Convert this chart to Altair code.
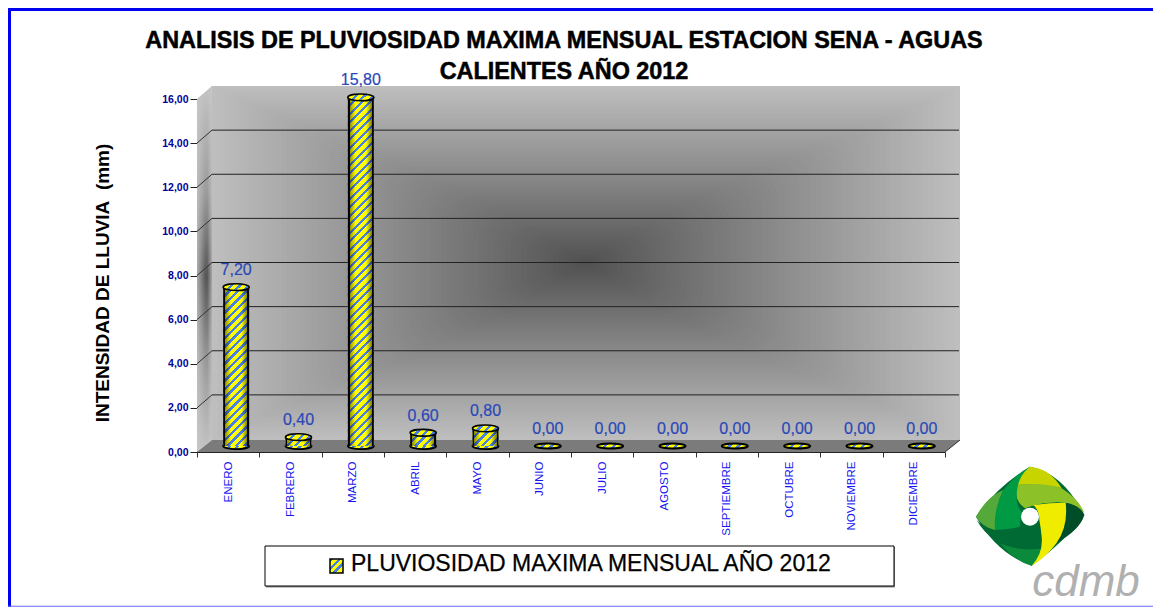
import altair as alt
import pandas as pd

MONTHS = ["ENERO", "FEBRERO", "MARZO", "ABRIL", "MAYO", "JUNIO", "JULIO", "AGOSTO",
          "SEPTIEMBRE", "OCTUBRE", "NOVIEMBRE", "DICIEMBRE"]
VALUES = [7.2, 0.4, 15.8, 0.6, 0.8, 0, 0, 0, 0, 0, 0, 0]
Y_TICKS = [0, 2, 4, 6, 8, 10, 12, 14, 16]
TITLE_LINES = ["ANALISIS DE PLUVIOSIDAD MAXIMA MENSUAL ESTACION SENA - AGUAS", "CALIENTES AÑO 2012"]
Y_TITLE = "INTENSIDAD DE LLUVIA\u00a0\u00a0(mm)"
LEGEND = "PLUVIOSIDAD MAXIMA MENSUAL AÑO 2012"

FONT = "Liberation Sans"
W, H = 748, 353
PX_X = alt.Scale(domain=[197, 945], nice=False, zero=False)
PX_Y = alt.Scale(domain=[452, 99], nice=False, zero=False)
BAND = alt.Scale(type="band", domain=MONTHS, range=[8, 756], paddingInner=0, paddingOuter=0)
BAR_Y = alt.Scale(domain=[0, 16], range=[347, -6], nice=False, zero=False)
GRID_Y = alt.Scale(domain=[0, 16], range=[H - 13, -13], nice=False, zero=False)
data = pd.DataFrame({"mes": MONTHS, "valor": VALUES,
                     "txt": [f"{v:.2f}".replace(".", ",") for v in VALUES]})
BAR_W = 26


def stop(o, c):
    return alt.GradientStop(offset=round(min(max(o, 0), 1), 5), color=c)


def hatch(w, h, period=8.5, blue=0.38):
    k = (w + h) / (w * w + h * h)
    n = (w + h) / period
    stops = []
    for i in range(int(n) + 1):
        a, b, c = i / n, (i + blue) / n, (i + 1) / n
        stops += [stop(a, "#4a7fe6"), stop(b, "#4a7fe6"), stop(b, "#ffff00"), stop(c, "#ffff00")]
    return alt.LinearGradient(gradient="linear", x1=0, y1=0, x2=w * k, y2=h * k, stops=stops)


SHADE = alt.LinearGradient(gradient="linear", x1=0, y1=0, x2=1, y2=0, stops=[
    stop(0, "rgba(0,0,0,1)"), stop(0.07, "rgba(0,0,0,1)"), stop(0.07, "rgba(0,0,0,0.45)"),
    stop(0.3, "rgba(0,0,0,0)"), stop(0.7, "rgba(0,0,0,0)"),
    stop(0.93, "rgba(0,0,0,0.5)"), stop(0.93, "rgba(0,0,0,1)"), stop(1, "rgba(0,0,0,1)")])

ELLIPSE = "M-1,0 A1,{r} 0 1 1 1,0 A1,{r} 0 1 1 -1,0 Z"


def px_rect(x, x2, y, y2, color, **kw):
    return alt.Chart(pd.DataFrame({"x": [x], "x2": [x2], "y": [y], "y2": [y2]})).mark_rect(color=color, **kw).encode(
        x=alt.X("x:Q", scale=PX_X, axis=None), x2="x2:Q",
        y=alt.Y("y:Q", scale=PX_Y, axis=None), y2="y2:Q")


def px_line(x, x2, y, y2, color, width=1):
    return alt.Chart(pd.DataFrame({"x": [x], "x2": [x2], "y": [y], "y2": [y2]})).mark_rule(color=color, strokeWidth=width).encode(
        x=alt.X("x:Q", scale=PX_X, axis=None), x2="x2:Q",
        y=alt.Y("y:Q", scale=PX_Y, axis=None), y2="y2:Q")


def px_text(x, y, s, **kw):
    return alt.Chart(pd.DataFrame({"x": [x], "y": [y], "t": [s]})).mark_text(font=FONT, **kw).encode(
        x=alt.X("x:Q", scale=PX_X, axis=None), y=alt.Y("y:Q", scale=PX_Y, axis=None), text="t:N")


def px_shape(x, y, path, fill, size=4 / 9):
    return alt.Chart(pd.DataFrame({"x": [x], "y": [y]})).mark_point(
        shape=path, size=size, filled=True, fill=fill, opacity=1, strokeWidth=0).encode(
        x=alt.X("x:Q", scale=PX_X, axis=None), y=alt.Y("y:Q", scale=PX_Y, axis=None))


layers = []

# page frame
layers += [px_rect(0, 1161, 8, 11, "#0000f0"), px_rect(8, 11, 8, 607, "#0000f0"),
           px_rect(8, 1161, 605.8, 606.8, "#6a6aff")]

# back wall: a rectangular path gradient, light at the edges and dark at the centre
WL, WR, WT, WB = 212, 960, 86, 440
CX, CY = 585, 263
STEPS = 70
for i in range(STEPS):
    t = 1 - i / STEPS
    g = int(0x50 + (0xbe - 0x50) * (t ** 0.95))
    hh = (WB - WT) / 2 * t
    radius = hh * (1 - t) ** 1.5 * 0.9
    layers.append(px_rect(CX + (WL - CX) * t, CX + (WR - CX) * t, CY + (WT - CY) * t, CY + (WB - CY) * t,
                          f"#{g:02x}{g:02x}{g:02x}", cornerRadius=round(radius, 2)))

# left wall
wall = pd.DataFrame({"x": [197, 212], "y": [99, 86], "y2": [452, 440]})
WALL_V = alt.LinearGradient(gradient="linear", x1=0, y1=0, x2=0, y2=1, stops=[
    stop(0, "#c4c4c4"), stop(0.3, "#9a9a9a"), stop(0.52, "#585858"), stop(0.75, "#999999"), stop(1, "#c4c4c4")])
WALL_H = alt.LinearGradient(gradient="linear", x1=0, y1=0, x2=1, y2=0, stops=[
    stop(0, "rgba(200,200,200,0.75)"), stop(0.55, "rgba(200,200,200,0)"), stop(0.7, "rgba(200,200,200,0)"),
    stop(1, "rgba(200,200,200,0.7)")])
for g in (WALL_V, WALL_H):
    layers.append(alt.Chart(wall).mark_area(color=g, opacity=1, line=False).encode(
        x=alt.X("x:Q", scale=PX_X, axis=None),
        y=alt.Y("y:Q", scale=PX_Y, axis=None), y2="y2:Q"))

# floor
floor = pd.DataFrame({"y": [452, 440], "x": [197, 212], "x2": [945, 960]})
layers.append(alt.Chart(floor).mark_area(orient="horizontal", color="#7b7b7b", opacity=1).encode(
    y=alt.Y("y:Q", scale=PX_Y, axis=None),
    x=alt.X("x:Q", scale=PX_X, axis=None), x2="x2:Q"))

# grid lines on the wall and their diagonals on the side wall
grid = pd.DataFrame({"v": [t for t in Y_TICKS if 0 < t < 16]})
grid["x"] = 212
grid["x2"] = 959
layers.append(alt.Chart(grid).mark_rule(color="#222222", strokeWidth=1).encode(
    y=alt.Y("v:Q", scale=GRID_Y, axis=None),
    x=alt.X("x:Q", scale=PX_X, axis=None), x2="x2:Q"))
for t in Y_TICKS[1:-1]:
    py = 452 - t * H / 16
    layers.append(px_line(197, 212, py, py - 13, "#333333"))
layers.append(px_line(945, 960, 452, 440, "#333333"))

# cylinders
x_band = alt.X("mes:N", scale=BAND, axis=None)
y_bar = alt.Y("valor:Q", scale=BAR_Y, axis=None)
for m, v in zip(MONTHS, VALUES):
    row = data[data.mes == m]
    if v == 0:
        layers.append(alt.Chart(row).mark_point(
            shape=ELLIPSE.format(r=0.2), size=BAR_W * BAR_W, filled=True, opacity=1,
            fill=hatch(BAR_W, 6, period=9), stroke="#000000", strokeWidth=2).encode(x=x_band, y=y_bar))
        continue
    h = v * 353 / 16
    zero_row = row.assign(valor=0.0)
    layers.append(alt.Chart(zero_row).mark_point(
        shape=ELLIPSE.format(r=0.24), size=BAR_W * BAR_W, filled=True, opacity=1,
        fill=hatch(BAR_W, 7), stroke="#000000", strokeWidth=1.8).encode(x=x_band, y=y_bar))
    for fill in (hatch(BAR_W, h), SHADE):
        layers.append(alt.Chart(row.assign(base=0.0)).mark_bar(size=BAR_W, color=fill, opacity=1).encode(
            x=x_band, y=y_bar, y2="base:Q"))
    layers.append(alt.Chart(row).mark_point(
        shape=ELLIPSE.format(r=0.26), size=BAR_W * BAR_W, filled=True, opacity=1,
        fill=hatch(BAR_W, 7), stroke="#000000", strokeWidth=1.6).encode(x=x_band, y=y_bar))

# value labels
layers.append(alt.Chart(data).mark_text(font=FONT, fontSize=16, color="#2a48b8", dy=-17,
                                        stroke="#2a48b8", strokeWidth=0.2).encode(
    x=x_band, y=y_bar, text="txt:N"))

# axes
layers.append(alt.Chart(data).mark_point(opacity=0).encode(
    x=alt.X("mes:N", scale=alt.Scale(type="band", domain=MONTHS, paddingInner=0, paddingOuter=0),
            title=None,
            axis=alt.Axis(labelAngle=270, labelFont=FONT, labelFontSize=11.5, labelColor="#1414f0",
                          tickBand="extent", tickColor="#333333", tickSize=5, domainColor="#222222",
                          labelPadding=4, grid=False, labelOverlap=False)),
    y=alt.Y("valor:Q", scale=alt.Scale(domain=[0, 16], nice=False), title=None,
            axis=alt.Axis(values=Y_TICKS, labelExpr="replace(format(datum.value,'.2f'),'.',',')",
                          labelFont=FONT, labelFontWeight="bold", labelFontSize=10.5, labelColor="#00009a",
                          tickColor="#222222", tickSize=7, domainColor="#111111", labelPadding=2,
                          grid=False))))

# titles
for s, y in zip(TITLE_LINES, (41, 72)):
    layers.append(px_text(564, y, s, fontSize=23.4, fontWeight="bold", color="#000000", align="center",
                          baseline="middle", stroke="#000000", strokeWidth=0.5))
layers.append(px_text(103, 283, Y_TITLE, fontSize=19, fontWeight="bold", color="#000000", angle=270,
                      align="center", baseline="middle"))

# legend
layers.append(px_rect(266, 895, 547, 587.5, "#8a8a8a"))
layers.append(px_rect(265, 894, 546, 586, "#ffffff", stroke="#000000", strokeWidth=1))
layers.append(px_rect(330, 343, 559, 573, hatch(13, 14, period=8), stroke="#000000", strokeWidth=1.5))
layers.append(px_text(351, 564, LEGEND, fontSize=23, color="#000000", align="left", baseline="middle",
                      stroke="#000000", strokeWidth=0.25))

# logo
LOGO = [
    ("M-162,0 Q-100,-90 0,-150 Q100,-130 163,-5 Q110,70 5,147 Q-100,110 -162,0 Z", "#006a35"),
    ("M-40,-95 Q-35,-130 0,-150 Q60,-145 95,-85 Q30,-100 -40,-95 Z", "#c8d400"),
    ("M-40,-95 Q40,-105 95,-85 Q150,-50 163,-10 Q130,-50 60,-42 Q20,-40 -15,-25 Q-50,-50 -40,-95 Z", "#8cc228"),
    ("M107,-42 Q150,-35 163,-5 Q150,40 80,78 Q110,20 107,-42 Z", "#004d2a"),
    ("M-90,80 Q-45,135 5,147 Q30,125 35,95 Q-30,105 -90,80 Z", "#0a8a3a"),
    ("M-160,10 Q-130,45 -90,40 Q-30,40 28,20 Q35,60 35,95 Q-30,105 -90,80 Q-140,50 -160,10 Z", "#006a35"),
    ("M10,-35 Q60,-42 107,-42 Q115,30 80,78 Q50,120 5,147 Q40,110 35,60 Q32,30 28,10 Q28,-20 10,-35 Z", "#f0ec00"),
    ("M-162,0 Q-130,-60 -80,-80 Q-105,-30 -105,40 Q-145,30 -162,0 Z", "#55a83a"),
    ("M-80,-80 Q-40,-130 0,-150 Q-40,-120 -40,-60 Q-40,-30 -25,-15 Q-30,10 -30,30 Q-70,40 -105,40 Q-110,-20 -80,-80 Z", "#009a44"),
]
for path, col in LOGO:
    layers.append(px_shape(1030, 516.7, path, col))
layers.append(px_shape(1030, 516.7, "circle", "#ffffff", size=324))
layers.append(px_text(1086, 596, "cdmb", fontSize=44, fontStyle="italic", color="#b0b0b0", align="center",
                      baseline="alphabetic"))

chart = alt.layer(*layers).resolve_scale(x="independent", y="independent").properties(
    width=W, height=H,
    padding={"left": 189, "top": 91, "right": 208, "bottom": 155},
    autosize=alt.AutoSizeParams(type="none"),
    background="#ffffff",
).configure_view(stroke=None)

chart.save("out.html", embed_options={"renderer": "svg", "actions": False})
